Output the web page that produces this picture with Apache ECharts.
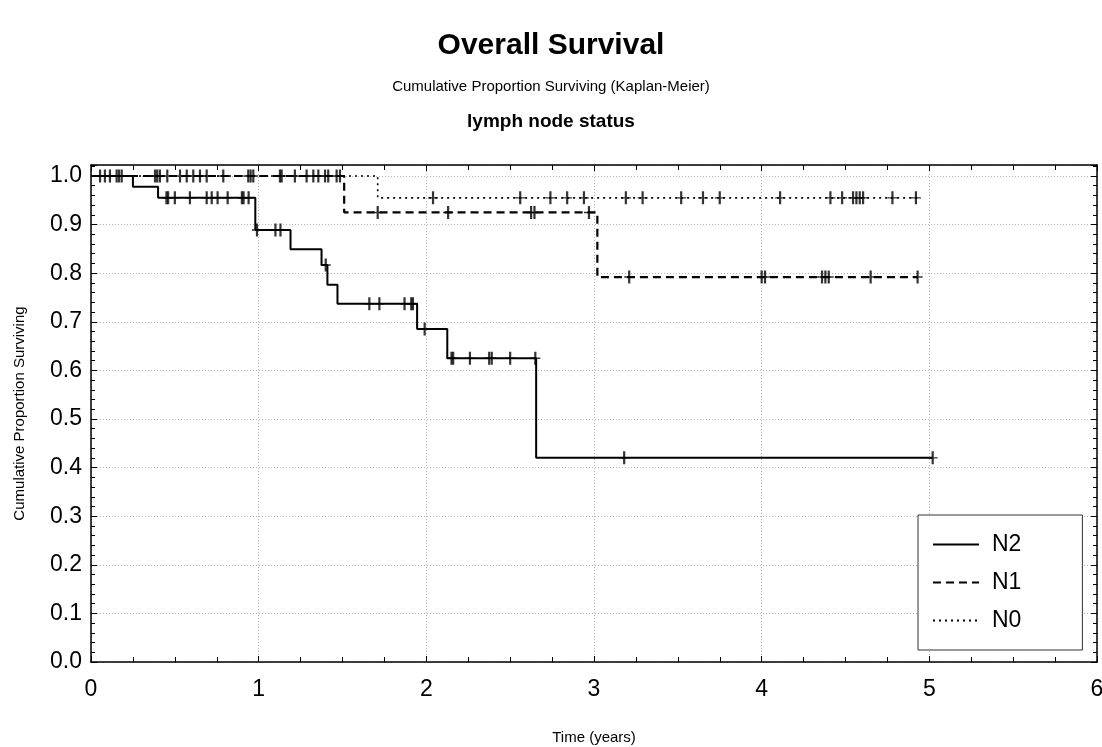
<!DOCTYPE html>
<html>
<head>
<meta charset="utf-8">
<script src="https://cdn.jsdelivr.net/npm/echarts@6/dist/echarts.min.js"></script>
<style>
html,body{margin:0;padding:0;background:#fff;}
#chart{width:1102px;height:747px;}
</style>
</head>
<body>
<div id="chart"></div>
<script>
// ---- Data ----
const seriesNames = ['N2', 'N1', 'N0'];

// Kaplan-Meier step points: [time (years), survival]
const n2Times = [0, 0.25, 0.40, 0.98, 1.19, 1.375, 1.41, 1.47, 1.945, 2.125, 2.655, 5.02];
const n2Surv  = [1.0, 0.978, 0.955, 0.889, 0.849, 0.817, 0.776, 0.737, 0.685, 0.625, 0.42, 0.42];
const n2Censor = [0.45, 0.46, 0.50, 0.59, 0.69, 0.72, 0.755, 0.815, 0.90, 0.91, 0.94, 0.99, 1.10, 1.13,
                  1.40, 1.66, 1.72, 1.87, 1.91, 1.92, 1.99, 2.15, 2.16, 2.26, 2.375, 2.39, 2.50, 2.65, 3.18, 5.02];

const n1Times = [0, 1.51, 3.02, 4.93];
const n1Surv  = [1.0, 0.925, 0.792, 0.792];
const n1Censor = [0.382, 0.395, 0.411, 0.571, 0.61, 0.789, 1.127, 1.137, 1.286, 1.326, 1.415, 1.465,
                  1.71, 2.13, 2.625, 2.645, 2.97, 3.21, 4.0, 4.02, 4.36, 4.38, 4.40, 4.65, 4.93];

const n0Times = [0, 1.71, 4.93];
const n0Surv  = [1.0, 0.955, 0.955];
const n0Censor = [0.054, 0.083, 0.113, 0.153, 0.167, 0.183, 0.455, 0.531, 0.65, 0.69, 0.938, 0.952, 0.968,
                  1.216, 1.356, 1.396, 1.485, 2.04, 2.56, 2.74, 2.84, 2.94, 3.19, 3.29, 3.52, 3.65, 3.75,
                  4.11, 4.41, 4.48, 4.545, 4.565, 4.585, 4.605, 4.78, 4.92];

const xTickLabels = ['0', '1', '2', '3', '4', '5', '6'];
const yTickLabels = ['0.0','0.1','0.2','0.3','0.4','0.5','0.6','0.7','0.8','0.9','1.0'];

// ---- Build ----
const FONT = '"Liberation Sans Narrow", "Arial Narrow", "Liberation Sans", Arial, sans-serif';

function pairs(times, surv) { return times.map((t, i) => [t, surv[i]]); }
function levelAt(times, surv, t) {
  let v = surv[0];
  for (let i = 0; i < times.length; i++) { if (times[i] <= t) v = surv[i]; }
  return v;
}
function censorPts(times, surv, cens) { return cens.map(t => [t, levelAt(times, surv, t)]); }

const plusPath = 'path://M3.9,0 H6.1 V12 H3.9 Z M0,5.35 H10 V6.65 H0 Z';

const lineDefs = [
  { name: 'N2', times: n2Times, surv: n2Surv, cens: n2Censor, type: 'solid', width: 2 },
  { name: 'N1', times: n1Times, surv: n1Surv, cens: n1Censor, type: [8, 5], width: 2.2 },
  { name: 'N0', times: n0Times, surv: n0Surv, cens: n0Censor, type: [2, 4], width: 1.6 }
];

const series = [];
lineDefs.forEach(d => {
  series.push({
    name: d.name, type: 'line', step: 'end', symbol: 'none',
    data: pairs(d.times, d.surv),
    lineStyle: { color: '#000', width: d.width, type: d.type },
    itemStyle: { color: '#000' },
    z: 3
  });
  series.push({
    name: d.name + ' censored', type: 'scatter',
    data: censorPts(d.times, d.surv, d.cens),
    symbol: plusPath, symbolSize: [10, 13],
    itemStyle: { color: '#000' },
    z: 4
  });
});

const yMax = 1.0226;
const fmtY = v => {
  const k = Math.round(v * 10);
  return Math.abs(v * 10 - k) < 1e-6 ? yTickLabels[k] : '';
};

const axisLineStyle = { lineStyle: { color: '#000', width: 1.5 } };
const gridLine = { show: true, lineStyle: { color: '#b5b5b5', type: [1, 2], width: 1 } };

const chart = echarts.init(document.getElementById('chart'), null, { renderer: 'canvas' });
chart.setOption({
  animation: false,
  backgroundColor: '#fff',
  title: [
    { text: 'Overall Survival', left: 'center', top: 26,
      textStyle: { fontFamily: FONT, fontSize: 30, fontWeight: 'bold', color: '#000' } },
    { text: 'Cumulative Proportion Surviving (Kaplan-Meier)', left: 'center', top: 74,
      textStyle: { fontFamily: FONT, fontSize: 15, fontWeight: 'normal', color: '#000' } },
    { text: 'lymph node status', left: 'center', top: 107,
      textStyle: { fontFamily: FONT, fontSize: 19, fontWeight: 'bold', color: '#000' } }
  ],
  grid: { left: 91, right: 5, top: 165, bottom: 85, show: false, outerBoundsMode: 'none', containLabel: false },
  legend: {
    data: seriesNames,
    orient: 'vertical',
    left: 918, top: 515,
    padding: [18, 61, 18, 14],
    itemGap: 15,
    itemWidth: 46, itemHeight: 24,
    backgroundColor: '#fff',
    borderColor: '#333', borderWidth: 1,
    itemStyle: { opacity: 0 },
    textStyle: { fontFamily: FONT, fontSize: 23, color: '#000', padding: [0, 0, 0, 8] }
  },
  xAxis: [
    {
      type: 'value', min: 0, max: 6, interval: 1, position: 'bottom',
      axisLine: { show: true, onZero: false, ...axisLineStyle },
      axisTick: { show: true, inside: true, length: 6, lineStyle: { color: '#000', width: 1 } },
      minorTick: { show: true, splitNumber: 4, length: 5, lineStyle: { color: '#000', width: 1 } },
      axisLabel: { fontFamily: FONT, fontSize: 23, color: '#000', margin: 16,
                   formatter: v => xTickLabels[Math.round(v)] ?? '' },
      splitLine: gridLine,
      name: 'Time (years)', nameLocation: 'middle', nameGap: 68,
      nameTextStyle: { fontFamily: FONT, fontSize: 15, color: '#000' }
    },
    {
      type: 'value', min: 0, max: 6, interval: 1, position: 'top',
      axisLine: { show: true, onZero: false, ...axisLineStyle },
      axisTick: { show: true, inside: true, length: 6, lineStyle: { color: '#000', width: 1 } },
      minorTick: { show: true, splitNumber: 4, length: 5, lineStyle: { color: '#000', width: 1 } },
      axisLabel: { show: false }, splitLine: { show: false }
    }
  ],
  yAxis: [
    {
      type: 'value', min: 0, max: yMax, interval: 0.1, position: 'left',
      axisLine: { show: true, onZero: false, ...axisLineStyle },
      axisTick: { show: true, inside: true, length: 6, lineStyle: { color: '#000', width: 1 } },
      minorTick: { show: true, splitNumber: 5, length: 4, lineStyle: { color: '#000', width: 1 } },
      axisLabel: { fontFamily: FONT, fontSize: 23, color: '#000', margin: 9, formatter: fmtY,
                   showMaxLabel: false },
      splitLine: gridLine,
      name: 'Cumulative Proportion Surviving', nameLocation: 'middle', nameGap: 64, nameRotate: 90,
      nameTextStyle: { fontFamily: FONT, fontSize: 15, color: '#000' }
    },
    {
      type: 'value', min: 0, max: yMax, interval: 0.1, position: 'right',
      axisLine: { show: true, onZero: false, ...axisLineStyle },
      axisTick: { show: true, inside: true, length: 6, lineStyle: { color: '#000', width: 1 } },
      minorTick: { show: true, splitNumber: 5, length: 4, lineStyle: { color: '#000', width: 1 } },
      axisLabel: { show: false }, splitLine: { show: false }
    }
  ],
  series: series
});
</script>
</body>
</html>
